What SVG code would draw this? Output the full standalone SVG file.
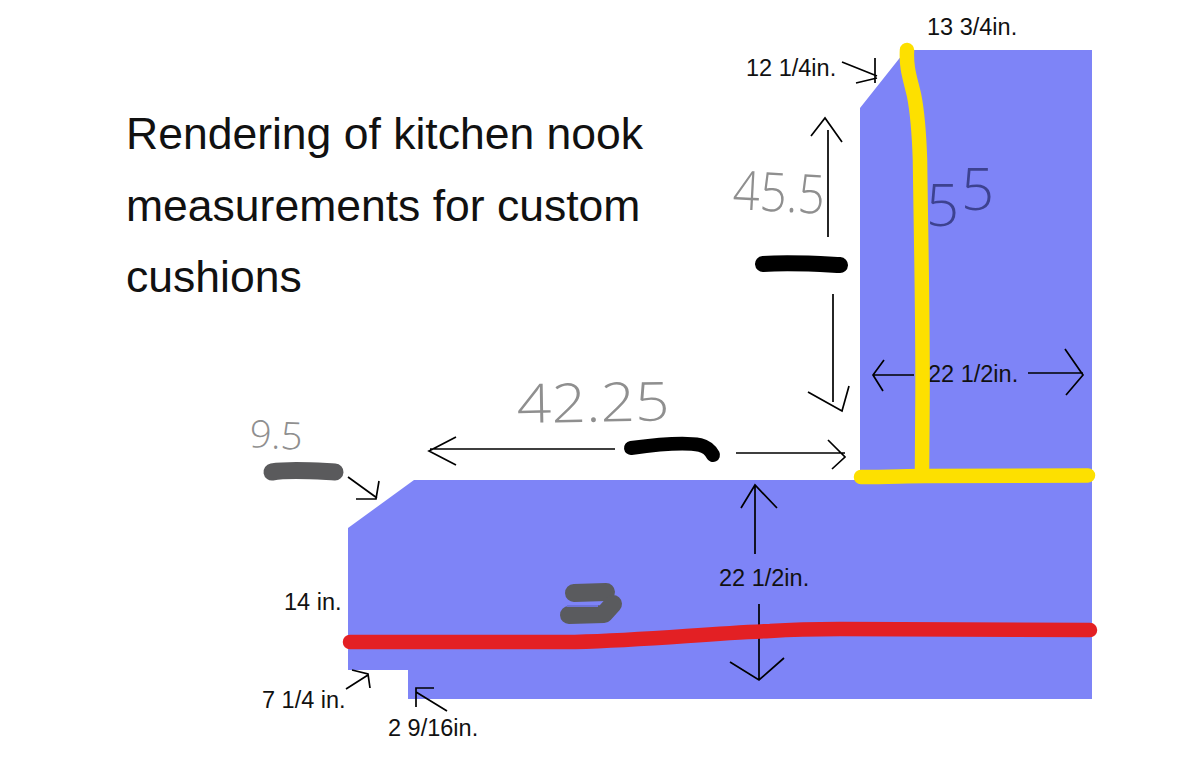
<svg xmlns="http://www.w3.org/2000/svg" width="1204" height="764" viewBox="0 0 1204 764">
<style>
text{font-family:"Liberation Sans",Arial,sans-serif;fill:#111}
.t{font-size:44.5px}
.l{font-size:23.5px}
.h{font-family:"Open Sans","Liberation Sans",sans-serif;font-weight:300;fill:#8f8f8f}
.a{fill:none;stroke:#000;stroke-width:1.7}
.y{fill:none;stroke:#fde000;stroke-width:14.5;stroke-linecap:round;stroke-linejoin:round}
.r{fill:none;stroke:#e32024;stroke-width:14.5;stroke-linecap:round;stroke-linejoin:round}
.b{fill:none;stroke-linecap:round;stroke-linejoin:round}
</style>
<rect width="1204" height="764" fill="#fff"/>
<g id="nook-shape"><polygon points="906,50 1092,50 1092,699 408,699 408,670 348,670 348,528 414,480 860,480 860,108" fill="#7e84f7"/></g>
<g id="title"><text class="t" x="126" y="148.500">Rendering of kitchen nook</text><text class="t" x="126" y="220.500">measurements for custom</text><text class="t" x="126" y="291.500">cushions</text></g>
<g id="connectors">
<path class="a" d="M842 62 877 76M856 83 877 78M875 58V83"/>
<path class="a" d="M828 237V130M811 136 825 118 842 142"/>
<path class="a" d="M833 294V402M808 392 842 411 849 386"/>
<path class="a" d="M615 449H430M456 437 429 451 456 465"/>
<path class="a" d="M736 453H845M828 440 845 457 832 469"/>
<path class="a" d="M914 375H873M884 360 873 375 883 391"/>
<path class="a" d="M1028 373H1083M1065 349 1083 375 1066 395"/>
<path class="a" d="M348 477 377 498M379 481 376 499H356"/>
<path class="a" d="M755 554V486M741 508 755 485 777 508"/>
<path class="a" d="M759 604V680M730 662 759 680 784 658"/>
<path class="a" d="M346 689 368 675M352 670 368 674 370 688"/>
<path class="a" d="M447 711 416 692M434 688H416V707"/>
</g>
<g id="labels">
<text class="l" x="927" y="34.500">13 3/4in.</text>
<text class="l" x="746" y="75.500">12 1/4in.</text>
<text class="l" x="928" y="381.500">22 1/2in.</text>
<text class="l" x="719" y="585.500">22 1/2in.</text>
<text class="l" x="284" y="609.500">14 in.</text>
<text class="l" x="262" y="707.500">7 1/4 in.</text>
<text class="l" x="388" y="735.500">2 9/16in.</text>
<text class="h" x="732" y="209" font-size="54" textLength="92" lengthAdjust="spacingAndGlyphs" transform="rotate(3 732 209)">45.5</text>
<text class="h" x="926 961" y="226 210" font-size="58" style="fill:#3d4290">55</text>
<text class="h" x="517" y="423" font-size="54" textLength="153" lengthAdjust="spacingAndGlyphs" transform="rotate(-1 517 423)">42.25</text>
<text class="h" x="249" y="447" font-size="38" textLength="53" lengthAdjust="spacingAndGlyphs" transform="rotate(3 249 447)">9.5</text>
</g>
<g id="marks">
<path class="y" d="M907 50C906 68 910 78 914 95C918 115 919 130 920 160C921 240 923 320 922.500 400L922 470"/>
<path class="y" d="M861 477C890 477 905 476 925 476L1088 475.500"/>
<path class="r" d="M350 642L575 642C650 640 700 634 770 631C800 629 820 629 840 629L1090 630"/>
<path class="b" d="M763 264C790 262 820 264 840 265" stroke="#000" stroke-width="16"/>
<path class="b" d="M631 448C660 444 685 442 700 445C708 447 711 451 713 455" stroke="#000" stroke-width="14"/>
<path class="b" d="M272 472C290 469 315 471 335 472" stroke="#5a5a5c" stroke-width="17"/>
<path class="b" d="M574 593 606 592" stroke="#5a5b5e" stroke-width="18"/>
<path class="b" d="M569 615 604 614 613 604" stroke="#5a5b5e" stroke-width="18"/>
<path d="M567 606H598" stroke="#6d72d8" stroke-width="2" fill="none"/>
</g>
</svg>
